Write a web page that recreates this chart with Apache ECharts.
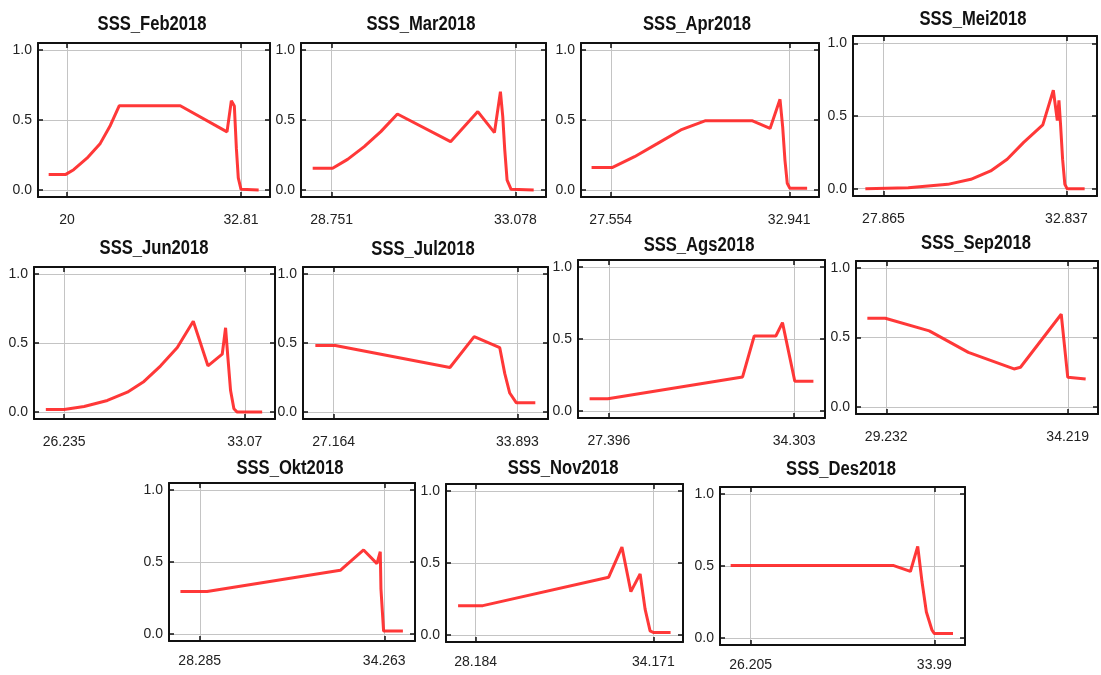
<!DOCTYPE html>
<html><head><meta charset="utf-8">
<script src="https://cdn.jsdelivr.net/npm/echarts@6/dist/echarts.min.js"></script>
<style>html,body{margin:0;padding:0;background:#fff}#c{width:1101px;height:675px}</style>
</head><body><div id="c"></div>
<script>
// ---- data ----
const titles = ["SSS_Feb2018","SSS_Mar2018","SSS_Apr2018","SSS_Mei2018","SSS_Jun2018","SSS_Jul2018","SSS_Ags2018","SSS_Sep2018","SSS_Okt2018","SSS_Nov2018","SSS_Des2018"];
const xTickLabels = [["20","32.81"],["28.751","33.078"],["27.554","32.941"],["27.865","32.837"],["26.235","33.07"],["27.164","33.893"],["27.396","34.303"],["29.232","34.219"],["28.285","34.263"],["28.184","34.171"],["26.205","33.99"]];
const yTickValues = [0, 0.5, 1.0];

const febX = [18.65, 19.88, 20.49, 21.47, 22.45, 23.19, 23.85, 28.34, 31.78, 32.10, 32.20, 32.32, 32.47, 32.61, 32.81, 34.11];
const febY = [0.11, 0.11, 0.145, 0.227, 0.333, 0.461, 0.602, 0.602, 0.415, 0.637, 0.649, 0.60, 0.297, 0.087, 0.005, 0.0];
const marX = [28.305, 28.774, 29.127, 29.518, 29.909, 30.30, 31.552, 32.194, 32.585, 32.726, 32.781, 32.828, 32.883, 32.977, 33.509];
const marY = [0.155, 0.155, 0.219, 0.31, 0.417, 0.543, 0.345, 0.56, 0.41, 0.702, 0.524, 0.286, 0.071, 0.005, 0.0];
const aprX = [26.975, 27.594, 28.272, 28.971, 29.669, 30.417, 31.814, 32.362, 32.662, 32.742, 32.811, 32.881, 32.96, 33.48];
const aprY = [0.16, 0.16, 0.238, 0.333, 0.429, 0.495, 0.495, 0.44, 0.648, 0.452, 0.214, 0.048, 0.012, 0.012];
const meiX = [27.372, 28.537, 29.612, 30.239, 30.777, 31.225, 31.673, 32.193, 32.479, 32.587, 32.632, 32.677, 32.731, 32.792, 32.855, 33.33];
const meiY = [0, 0.007, 0.03, 0.065, 0.122, 0.203, 0.319, 0.439, 0.677, 0.469, 0.607, 0.434, 0.203, 0.03, 0, 0];
const junX = [25.543, 26.235, 26.99, 27.871, 28.627, 29.256, 29.885, 30.515, 31.119, 31.673, 32.214, 32.34, 32.428, 32.529, 32.655, 32.78, 33.724];
const junY = [0.019, 0.019, 0.041, 0.084, 0.144, 0.222, 0.335, 0.467, 0.658, 0.335, 0.419, 0.61, 0.395, 0.156, 0.024, 0, 0];
const julX = [26.495, 27.225, 31.423, 32.311, 33.248, 33.43, 33.613, 33.856, 34.55];
const julY = [0.482, 0.482, 0.323, 0.546, 0.466, 0.28, 0.138, 0.067, 0.067];
const agsX = [26.677, 27.359, 32.381, 32.815, 33.621, 33.869, 34.328, 35.022];
const agsY = [0.084, 0.084, 0.236, 0.521, 0.521, 0.614, 0.206, 0.206];
const sepX = [28.713, 29.205, 30.414, 31.488, 32.742, 32.921, 34.04, 34.219, 34.711];
const sepY = [0.638, 0.638, 0.548, 0.393, 0.274, 0.286, 0.667, 0.214, 0.202];
const oktX = [27.659, 28.522, 32.839, 33.594, 34.026, 34.134, 34.156, 34.242, 34.867];
const oktY = [0.294, 0.294, 0.442, 0.584, 0.489, 0.572, 0.313, 0.019, 0.019];
const novX = [27.593, 28.429, 32.666, 33.112, 33.413, 33.725, 33.892, 34.06, 34.171, 34.75];
const novY = [0.203, 0.203, 0.401, 0.611, 0.301, 0.424, 0.179, 0.028, 0.016, 0.016];
const desX = [25.359, 32.269, 32.974, 33.285, 33.468, 33.651, 33.891, 33.99, 34.78];
const desY = [0.503, 0.503, 0.462, 0.637, 0.388, 0.18, 0.053, 0.03, 0.03];

const seriesX = [febX, marX, aprX, meiX, junX, julX, agsX, sepX, oktX, novX, desX];
const seriesY = [febY, marY, aprY, meiY, junY, julY, agsY, sepY, oktY, novY, desY];

// ---- layout ----
const boxes = [
  [38,43,270,197],[301,43,546,197],[581,43,819,197],[853,36,1097,196],
  [34,267,275,419],[303,267,548,419],[578,260,825,418],[856,261,1098,414],
  [169,483,415,641],[446,484,683,642],[720,487,965,645]
];
const labelMargins = [16,16,16,16,16,16,16,16,13,13,13];
const titlePos = [[152,24.5],[421,24.5],[697,24.5],[973,19.5],[154,248.5],[423,249],[699,245],[976,243],[290,468],[563,468],[841,469.5]];

const FONT = '"Liberation Sans Narrow", "Liberation Sans", Arial, sans-serif';
const AX = '#111';
const GRID = '#c4c4c4';

const grid = [], xAxis = [], yAxis = [], series = [], graphic = [];
boxes.forEach((b, i) => {
  grid.push({left: b[0], top: b[1], width: b[2]-b[0], height: b[3]-b[1], containLabel: false});
  const t = xTickLabels[i].map(parseFloat);
  const r = t[1] - t[0];
  const xmin = t[0] - r/6, xmax = t[1] + r/6;
  const fmtX = v => { const k = t.findIndex(a => Math.abs(a - v) < 1e-9); return k >= 0 ? xTickLabels[i][k] : ''; };
  xAxis.push({
    type: 'value', gridIndex: i, min: xmin, max: xmax, position: 'bottom',
    axisLine: {show: true, onZero: false, lineStyle: {color: AX, width: 2}},
    axisTick: {show: true, inside: true, length: 5, customValues: t, lineStyle: {color: AX, width: 1.5}},
    axisLabel: {show: true, customValues: t, formatter: fmtX, margin: labelMargins[i], fontFamily: FONT, fontSize: 14, color: '#222'},
    splitLine: {show: true, lineStyle: {color: GRID, width: 1}}
  });
  xAxis.push({
    type: 'value', gridIndex: i, min: xmin, max: xmax, position: 'top',
    axisLine: {show: true, onZero: false, lineStyle: {color: AX, width: 2}},
    axisTick: {show: true, inside: true, length: 5, customValues: t, lineStyle: {color: AX, width: 1.5}},
    axisLabel: {show: false}, splitLine: {show: false}
  });
  yAxis.push({
    type: 'value', gridIndex: i, min: -0.05, max: 1.05, position: 'left',
    axisLine: {show: true, onZero: false, lineStyle: {color: AX, width: 2}},
    axisTick: {show: true, inside: true, length: 5, customValues: yTickValues, lineStyle: {color: AX, width: 1.5}},
    axisLabel: {show: true, customValues: yTickValues, formatter: v => v.toFixed(1), margin: 6, fontFamily: FONT, fontSize: 14, color: '#222'},
    splitLine: {show: true, lineStyle: {color: GRID, width: 1}}
  });
  yAxis.push({
    type: 'value', gridIndex: i, min: -0.05, max: 1.05, position: 'right',
    axisLine: {show: true, onZero: false, lineStyle: {color: AX, width: 2}},
    axisTick: {show: true, inside: true, length: 5, customValues: yTickValues, lineStyle: {color: AX, width: 1.5}},
    axisLabel: {show: false}, splitLine: {show: false}
  });
  series.push({
    type: 'line', xAxisIndex: 2*i, yAxisIndex: 2*i,
    data: seriesX[i].map((x, k) => [x, seriesY[i][k]]),
    symbol: 'none', showSymbol: false, smooth: false, silent: true,
    lineStyle: {color: '#ff2222', width: 3, opacity: 0.9}
  });
  graphic.push({
    type: 'text', x: titlePos[i][0], y: titlePos[i][1], scaleX: 0.83,
    style: {text: titles[i], fill: '#111', font: 'bold 20px ' + FONT, align: 'center', verticalAlign: 'middle'}
  });
});

const chart = echarts.init(document.getElementById('c'), null, {renderer: 'canvas'});
chart.setOption({animation: false, backgroundColor: '#fff', grid, xAxis, yAxis, series, graphic});
</script>
</body></html>
